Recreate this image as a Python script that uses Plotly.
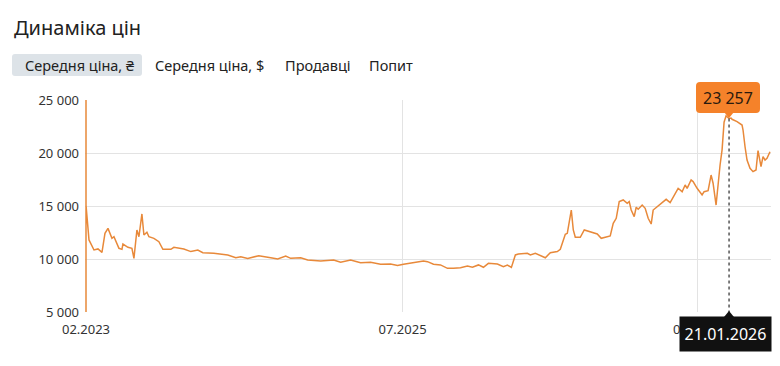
import plotly.graph_objects as go

# ---------------- data ----------------
title_text = "Динаміка цін"
tabs = ["Середня ціна, ₴", "Середня ціна, $", "Продавці", "Попит"]

# observation index along the (non-linear) time axis
obs = [0, 0, 0, 3, 8, 12, 16, 19, 22, 26, 28, 33, 36, 37, 42, 46, 48, 51, 53, 56,
       58, 61, 63, 68, 73, 77, 85, 88, 98, 105, 112, 117, 128, 142, 150, 155, 162,
       173, 182, 185, 192, 200, 205, 215, 222, 235, 248, 255, 265, 275, 285, 295,
       305, 312, 318, 328, 338, 342, 348, 355, 362, 368, 375, 382, 387, 393, 398,
       403, 412, 418, 422, 426, 430, 433, 442, 445, 450, 460, 465, 472, 475, 480,
       482, 486, 488, 490, 495, 499, 505, 512, 516, 522, 525, 528, 531, 534, 538,
       542, 544, 546, 549, 551, 553, 557, 560, 563, 566, 568, 572, 577, 581, 585,
       590, 593, 597, 600, 602, 606, 608, 612, 617, 619, 623, 626, 628, 631, 635,
       637, 639, 641, 644, 646, 647, 652, 657, 658, 660, 662, 665, 668, 671, 673,
       676, 678, 680, 682, 685]
price = [26000, 4000, 15100, 11800, 10850, 10950, 10630, 12420, 12890, 11950, 12100,
         11010, 10910, 11410, 11100, 11010, 10060, 12740, 12100, 14250, 12260, 12520,
         12100, 11950, 11630, 10910, 10910, 11100, 10950, 10700, 10850, 10600, 10540,
         10380, 10120, 10220, 10060, 10310, 10120, 10120, 10000, 10280, 10060, 10120,
         9910, 9810, 9910, 9690, 9910, 9650, 9690, 9500, 9530, 9380, 9500, 9650, 9810,
         9750, 9500, 9440, 9120, 9120, 9180, 9340, 9220, 9440, 9220, 9590, 9530, 9270,
         9430, 9210, 10380, 10470, 10540, 10380, 10540, 10120, 10600, 10700, 10910,
         12330, 12420, 14620, 12740, 12050, 12050, 12740, 12580, 12360, 11950, 12050,
         12170, 13370, 13840, 15410, 15570, 15250, 15410, 14620, 14000, 14880, 14690,
         15090, 14780, 13840, 13300, 14620, 14940, 15320, 15630, 15320, 16200, 16670,
         16350, 16980, 16670, 17450, 17300, 16670, 16040, 16350, 16450, 17920, 17150,
         15090, 18870, 20300, 22900, 23500, 23257, 23300, 23180, 22960, 22640, 22170,
         20590, 19340, 18550, 18240, 18400, 20220, 18710, 19650, 19340, 19500, 20120]

x_tick_vals = [0, 317, 612]
x_tick_text = ["02.2023", "07.2025", "01.2026"]
y_tick_vals = [5000, 10000, 15000, 20000, 25000]
y_tick_text = ["5 000", "10 000", "15 000", "20 000", "25 000"]

hover_obs = 644
hover_value = 23257
hover_date = "21.01.2026"

# ---------------- layout helpers ----------------
W, H = 780, 366
L, R, T, B = 85, 9, 100, 54
PW, PH = W - L - R, H - T - B


def px(x):
    return (x - L) / PW


def py(y):
    return (H - B - y) / PH


def rounded_rect(x0, y0, x1, y1, r):
    pts = []
    return (f"M {px(x0 + r)},{py(y0)} L {px(x1 - r)},{py(y0)} "
            f"Q {px(x1)},{py(y0)} {px(x1)},{py(y0 + r)} "
            f"L {px(x1)},{py(y1 - r)} Q {px(x1)},{py(y1)} {px(x1 - r)},{py(y1)} "
            f"L {px(x0 + r)},{py(y1)} Q {px(x0)},{py(y1)} {px(x0)},{py(y1 - r)} "
            f"L {px(x0)},{py(y0 + r)} Q {px(x0)},{py(y0)} {px(x0 + r)},{py(y0)} Z")


FONT = "Segoe UI, Noto Sans, Open Sans, DejaVu Sans, sans-serif"
LINE_COLOR = "#E8893A"
ORANGE = "#F5822A"

fig = go.Figure()
fig.add_trace(go.Scatter(x=obs, y=price, mode="lines",
                         line=dict(color=LINE_COLOR, width=1.5),
                         hoverinfo="skip", showlegend=False))

shapes = []
# tab highlight
shapes.append(dict(type="path", xref="paper", yref="paper",
                   path=rounded_rect(12, 54, 142, 76, 3),
                   fillcolor="#DDE3E8", line=dict(width=0), layer="below"))
# dotted hover line
shapes.append(dict(type="line", xref="x", yref="y", x0=hover_obs, x1=hover_obs,
                   y0=hover_value, y1=5000,
                   line=dict(color="#555555", width=1.5, dash="dot")))
# orange value box + pointer
shapes.append(dict(type="path", xref="paper", yref="paper",
                   path=rounded_rect(696, 82, 760, 113, 4),
                   fillcolor=ORANGE, line=dict(width=0), layer="above"))
shapes.append(dict(type="path", xref="paper", yref="paper",
                   path=f"M {px(724)},{py(112)} L {px(734)},{py(112)} L {px(729)},{py(118)} Z",
                   fillcolor=ORANGE, line=dict(width=0), layer="above"))

annotations = [
    dict(text=title_text, xref="paper", yref="paper", x=px(12), y=py(27),
         xanchor="left", yanchor="middle", showarrow=False,
         font=dict(family=FONT, size=20, color="#222222")),
    dict(text=str(f"{hover_value:,}").replace(",", " "), xref="paper", yref="paper",
         x=px(728), y=py(97.5), xanchor="center", yanchor="middle", showarrow=False,
         font=dict(family=FONT, size=16, color="#2a1a0e")),
    dict(text=hover_date, xref="paper", yref="paper", x=px(725.5), y=py(334),
         xanchor="center", yanchor="middle", showarrow=False,
         width=87, height=30, bgcolor="#111111", borderpad=2,
         font=dict(family=FONT, size=16, color="#FFFFFF")),
]
tab_x = [23, 153, 283, 367]
for t, x in zip(tabs, tab_x):
    annotations.append(dict(text=t, xref="paper", yref="paper", x=px(x), y=py(65),
                            xanchor="left", yanchor="middle", showarrow=False,
                            font=dict(family=FONT, size=14.5, color="#222222")))

# black date-box pointer (drawn as shape)
shapes.append(dict(type="path", xref="paper", yref="paper",
                   path=f"M {px(724)},{py(317)} L {px(734)},{py(317)} L {px(729)},{py(311)} Z",
                   fillcolor="#111111", line=dict(width=0), layer="above"))

fig.update_layout(
    width=W, height=H,
    margin=dict(l=L, r=R, t=T, b=B, pad=0),
    paper_bgcolor="white", plot_bgcolor="white",
    font=dict(family=FONT, size=13, color="#333333"),
    hovermode=False,
    shapes=shapes,
    annotations=annotations,
    xaxis=dict(range=[-1, 686], tickmode="array", tickvals=x_tick_vals,
               ticktext=x_tick_text, showgrid=True, gridcolor="#E3E3E3",
               gridwidth=1, zeroline=False, showline=False, ticks="",
               ticklabelstandoff=8, tickfont=dict(size=13, color="#333333"),
               fixedrange=True),
    yaxis=dict(range=[5000, 25000], tickmode="array", tickvals=y_tick_vals,
               ticktext=y_tick_text, showgrid=True, gridcolor="#E3E3E3",
               gridwidth=1, zeroline=False, showline=False, ticks="",
               ticklabelstandoff=5, tickfont=dict(size=13, color="#333333"),
               fixedrange=True),
)

fig.write_html("out.html", config={"displayModeBar": False})
